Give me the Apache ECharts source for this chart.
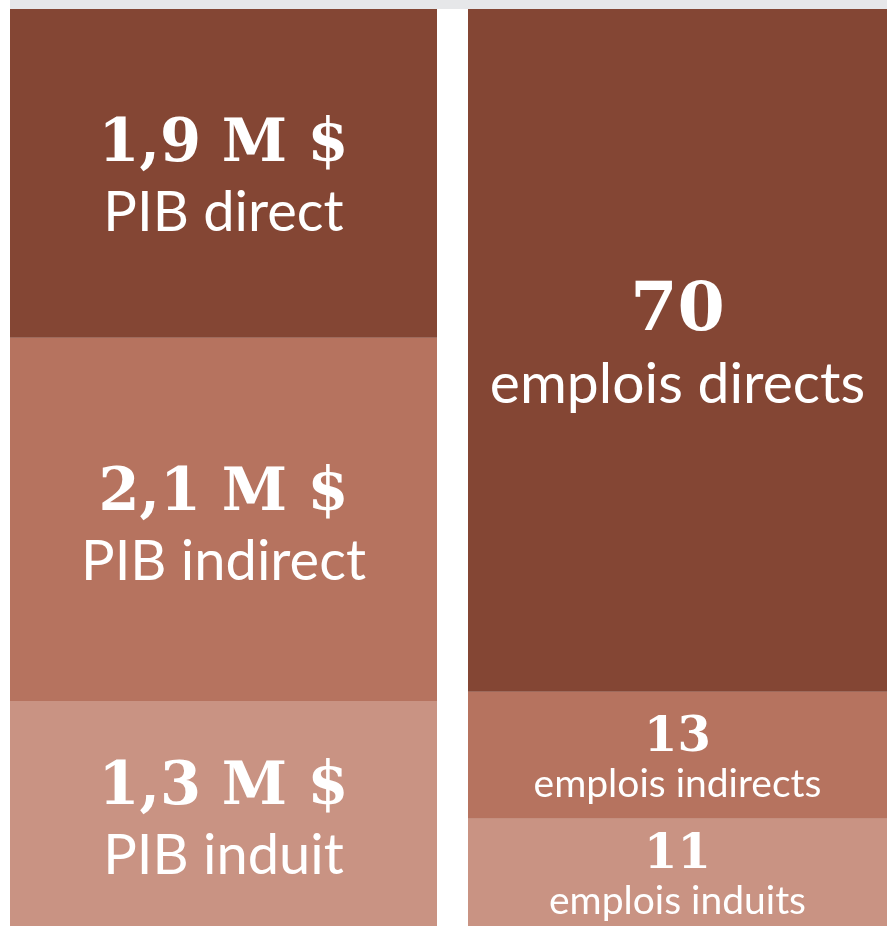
<!DOCTYPE html>
<html>
<head>
<meta charset="utf-8">
<style>
  html, body { margin: 0; padding: 0; background: #fff; }
  #chart { width: 887px; height: 926px; }
</style>
<script src="https://cdn.jsdelivr.net/npm/echarts@6/dist/echarts.min.js"></script>
</head>
<body>
<div id="chart"></div>
<script>
// PIB (millions $), stacked top to bottom
const pibNames = ['PIB direct', 'PIB indirect', 'PIB induit']
const pibValues = [1.9, 2.1, 1.3]
// emplois
const jobNames = ['emplois directs', 'emplois indirects', 'emplois induits']
const jobValues = [70, 13, 11]

const colors = ['#844634', '#b6735f', '#c99383']
const numFont = '"DejaVu Serif", serif'
const txtFont = 'Lato, "Open Sans", sans-serif'

const sum = arr => arr.reduce((a, b) => a + b, 0)

function label(numSize, txtSize, gap, dy) {
  return {
    show: true,
    position: 'inside',
    offset: [0, dy],
    color: '#fff',
    align: 'center',
    rich: {
      n: { fontFamily: numFont, fontWeight: 'bold', fontSize: numSize, lineHeight: gap, color: '#fff' },
      l: { fontFamily: txtFont, fontSize: txtSize, lineHeight: gap, color: '#fff' }
    }
  }
}

// series drawn bottom-up, so reverse the order
const series = []
for (let i = pibValues.length - 1; i >= 0; i--) {
  series.push({
    type: 'bar',
    stack: 'pib',
    xAxisIndex: 0,
    yAxisIndex: 0,
    barWidth: '100%',
    data: [pibValues[i]],
    itemStyle: { color: colors[i] },
    label: Object.assign(label(59, 56, 67, i === 0 ? 6 : 9), {
      formatter: p => '{n|' + String(p.value).replace('.', ',') + ' M $}\n{l|' + pibNames[i] + '}'
    }),
    silent: true
  })
}
for (let i = jobValues.length - 1; i >= 0; i--) {
  const big = i === 0
  series.push({
    type: 'bar',
    stack: 'jobs',
    xAxisIndex: 1,
    yAxisIndex: 1,
    barWidth: '100%',
    data: [jobValues[i]],
    itemStyle: { color: colors[i] },
    label: Object.assign(big ? label(68, 57, 72, -2) : label(48, 39, 46, 6), {
      formatter: p => '{n|' + p.value + '}\n{l|' + jobNames[i] + '}'
    }),
    silent: true
  })
}

const chart = echarts.init(document.getElementById('chart'))
chart.setOption({
  animation: false,
  grid: [
    { left: 10, top: 9, width: 427, bottom: 0 },
    { left: 468, top: 9, right: 0, bottom: 0 }
  ],
  xAxis: [
    { type: 'category', gridIndex: 0, data: ['PIB'], show: false },
    { type: 'category', gridIndex: 1, data: ['emplois'], show: false }
  ],
  yAxis: [
    { type: 'value', gridIndex: 0, min: 0, max: sum(pibValues), show: false },
    { type: 'value', gridIndex: 1, min: 0, max: sum(jobValues), show: false }
  ],
  graphic: [{
    type: 'rect',
    left: 10,
    top: 0,
    shape: { width: 877, height: 9 },
    style: { fill: '#e6e7e9' }
  }],
  series
})
</script>
</body>
</html>
